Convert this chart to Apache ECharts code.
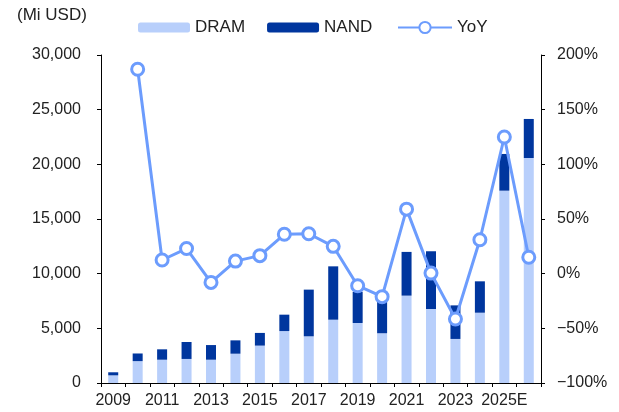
<!DOCTYPE html>
<html>
<head>
<meta charset="utf-8">
<title>DRAM / NAND</title>
<script src="https://cdn.jsdelivr.net/npm/echarts@6/dist/echarts.min.js"></script>
</head>
<body style="margin:0">
<div id="main" style="width:619px;height:412px;"></div>
<script type="text/javascript">
// 数据
var years = ['2009', '2010', '2011', '2012', '2013', '2014', '2015', '2016', '2017',
	'2018', '2019', '2020', '2021', '2022', '2023', '2024', '2025E', '2026E'];
var dram = [700, 2000, 2130, 2200, 2130, 2680, 3420, 4750, 4270,
	5790, 5490, 4550, 7990, 6770, 4030, 6430, 17590, 20580];
var nand = [280, 700, 950, 1550, 1340, 1220, 1160, 1500, 4270,
	4880, 2850, 2900, 4000, 5280, 3070, 2870, 3360, 3570];
var yoy = [null, 187, 12.5, 23, -8, 11.5, 16.5, 36, 36.5,
	25, -11, -21, 59, 0.5, -41.5, 31, 125, 15];

var font = '"Liberation Sans", Arial, sans-serif';
var lineColor = '#6c9cfd';

var myChart = echarts.init(document.getElementById('main'));

var option = {
	animation: false,
	textStyle: { fontFamily: font },
	title: {
		text: '(Mi USD)',
		left: 12,
		top: 2,
		textStyle: { fontSize: 17, fontWeight: 'normal', color: '#222', fontFamily: font }
	},
	legend: [{
		data: ['DRAM', 'NAND'],
		left: 133,
		top: 14,
		itemWidth: 52,
		itemHeight: 10,
		itemGap: 22,
		textStyle: { fontSize: 17, color: '#222', fontFamily: font }
	}, {
		data: ['YoY'],
		left: 392,
		top: 14,
		itemWidth: 54,
		itemHeight: 14,
		textStyle: { fontSize: 17, color: '#222', fontFamily: font }
	}],
	grid: {
		left: 101,
		right: 78,
		top: 55,
		bottom: 29
	},
	xAxis: {
		type: 'category',
		data: years,
		boundaryGap: true,
		axisLine: { lineStyle: { color: '#000', width: 1 } },
		axisTick: { show: true, interval: 0, length: 4, lineStyle: { color: '#000' } },
		axisLabel: { interval: 1, color: '#222', fontSize: 16, margin: 10 }
	},
	yAxis: [{
		type: 'value',
		min: 0,
		max: 30000,
		interval: 5000,
		splitLine: { show: false },
		axisLine: { show: true, lineStyle: { color: '#000' } },
		axisTick: { show: true, length: 4, lineStyle: { color: '#000' } },
		axisLabel: {
			color: '#222',
			fontSize: 16,
			margin: 20,
			formatter: function (v) { return v.toLocaleString('en-US'); }
		}
	}, {
		type: 'value',
		min: -100,
		max: 200,
		interval: 50,
		splitLine: { show: false },
		axisLine: { show: true, lineStyle: { color: '#000' } },
		axisTick: { show: true, length: 4, lineStyle: { color: '#000' } },
		axisLabel: {
			color: '#222',
			fontSize: 16,
			margin: 16,
			formatter: function (v) { return (v < 0 ? '\u2212' + (-v) : v) + '%'; }
		}
	}],
	series: [{
		name: 'DRAM',
		type: 'bar',
		stack: 'mem',
		barWidth: 10,
		itemStyle: { color: '#b8cffb' },
		data: dram
	}, {
		name: 'NAND',
		type: 'bar',
		stack: 'mem',
		barWidth: 10,
		itemStyle: { color: '#00369e' },
		data: nand
	}, {
		name: 'YoY',
		type: 'line',
		yAxisIndex: 1,
		symbol: 'circle',
		symbolSize: 12,
		showAllSymbol: true,
		lineStyle: { color: lineColor, width: 3 },
		itemStyle: { color: '#fff', borderColor: lineColor, borderWidth: 3 },
		z: 5,
		data: yoy
	}]
};

myChart.setOption(option);
</script>
</body>
</html>
